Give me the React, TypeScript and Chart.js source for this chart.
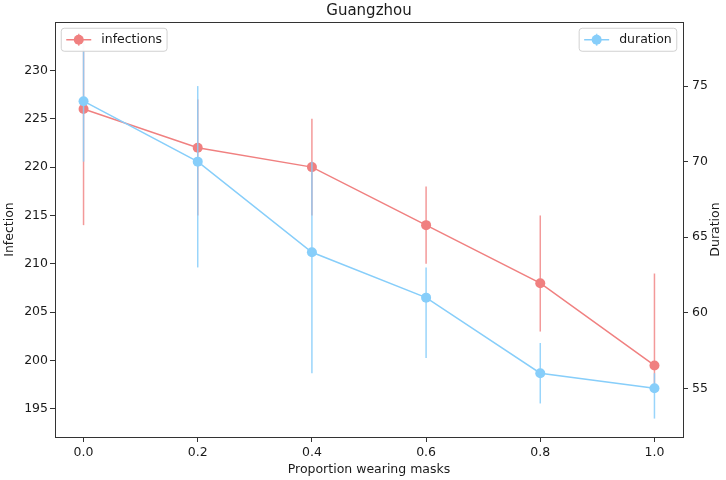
import React, { useEffect, useRef } from "react";
import { Chart, registerables } from "chart.js";
Chart.register(...registerables);

const chartTitle = "Guangzhou";
const xLabel = "Proportion wearing masks";
const leftLabel = "Infection";
const rightLabel = "Duration";

const maskProportion = [0, 0.2, 0.4, 0.6, 0.8, 1.0];
const infections = [226, 222, 220, 214, 208, 199.5];
const infectionsLow = [214, 215, 215, 210, 203, 197];
const infectionsHigh = [233, 227, 225, 218, 215, 209];
const duration = [74, 70, 64, 61, 56, 55];
const durationLow = [70, 63, 56, 57, 54, 53];
const durationHigh = [78, 75, 70, 63, 58, 56];

const xTicks = [0, 0.2, 0.4, 0.6, 0.8, 1.0];
const infectionTicks = [195, 200, 205, 210, 215, 220, 225, 230];
const durationTicks = [55, 60, 65, 70, 75];

const RED = "#F08080";
const BLUE = "#87CEFA";
const RED_ERR = "rgba(240,128,128,0.8)";
const BLUE_ERR = "rgba(135,206,250,0.85)";
const FONT = "DejaVu Sans";
const TEXT = "#1a1a1a";
const AXIS = "#333333";

const errorRanges = [
  { low: infectionsLow, high: infectionsHigh, color: RED_ERR },
  { low: durationLow, high: durationHigh, color: BLUE_ERR },
];

const errorBarPlugin = {
  id: "errorBars",
  beforeDatasetDraw(chart: any, args: any) {
    const ds = chart.data.datasets[args.index];
    const range = errorRanges[args.index];
    const yScale = chart.scales[ds.yAxisID];
    const { ctx, chartArea } = chart;
    ctx.save();
    ctx.beginPath();
    ctx.rect(chartArea.left, chartArea.top, chartArea.right - chartArea.left, chartArea.bottom - chartArea.top);
    ctx.clip();
    ctx.strokeStyle = range.color;
    ctx.lineWidth = 1.5;
    args.meta.data.forEach((pt: any, i: number) => {
      ctx.beginPath();
      ctx.moveTo(pt.x, yScale.getPixelForValue(range.low[i]));
      ctx.lineTo(pt.x, yScale.getPixelForValue(range.high[i]));
      ctx.stroke();
    });
    ctx.restore();
  },
};

function roundRect(ctx: CanvasRenderingContext2D, x: number, y: number, w: number, h: number, r: number) {
  ctx.beginPath();
  ctx.moveTo(x + r, y);
  ctx.lineTo(x + w - r, y);
  ctx.arcTo(x + w, y, x + w, y + r, r);
  ctx.lineTo(x + w, y + h - r);
  ctx.arcTo(x + w, y + h, x + w - r, y + h, r);
  ctx.lineTo(x + r, y + h);
  ctx.arcTo(x, y + h, x, y + h - r, r);
  ctx.lineTo(x, y + r);
  ctx.arcTo(x, y, x + r, y, r);
  ctx.closePath();
}

const decorPlugin = {
  id: "decor",
  afterDraw(chart: any) {
    const { ctx, chartArea } = chart;
    const { left, right, top, bottom } = chartArea;
    ctx.save();
    // frame
    ctx.strokeStyle = AXIS;
    ctx.lineWidth = 1;
    ctx.strokeRect(Math.round(left) + 0.5, Math.round(top) + 0.5, Math.round(right - left), Math.round(bottom - top));
    // title
    ctx.fillStyle = TEXT;
    ctx.font = `15px "${FONT}"`;
    ctx.textAlign = "center";
    ctx.textBaseline = "alphabetic";
    ctx.fillText(chartTitle, (left + right) / 2, 15);

    // right axis title (reads bottom-to-top)
    ctx.save();
    ctx.font = `12.5px "${FONT}"`;
    ctx.translate(716, (top + bottom) / 2);
    ctx.rotate(-Math.PI / 2);
    ctx.textAlign = "center";
    ctx.textBaseline = "middle";
    ctx.fillText(rightLabel, 0, 0);
    ctx.restore();

    // legends
    const fs = 12.5;
    ctx.font = `${fs}px "${FONT}"`;
    const pad = fs * 0.4;
    const handle = fs * 2;
    const gap = fs * 0.8;
    const axPad = fs * 0.5;
    const h = 23;
    const drawLegend = (label: string, color: string, errColor: string, anchor: "left" | "right") => {
      const tw = ctx.measureText(label).width;
      const w = pad + handle + gap + tw + pad;
      const x = anchor === "left" ? left + axPad : right - axPad - w;
      const y = top + axPad;
      roundRect(ctx, x, y, w, h, 3);
      ctx.fillStyle = "rgba(255,255,255,0.95)";
      ctx.fill();
      ctx.strokeStyle = "rgba(204,204,204,0.9)";
      ctx.lineWidth = 1;
      ctx.stroke();
      const cy = y + h / 2;
      const hx = x + pad;
      ctx.strokeStyle = color;
      ctx.lineWidth = 1.5;
      ctx.beginPath();
      ctx.moveTo(hx, cy);
      ctx.lineTo(hx + handle, cy);
      ctx.stroke();
      ctx.strokeStyle = errColor;
      ctx.beginPath();
      ctx.moveTo(hx + handle / 2, cy - 6);
      ctx.lineTo(hx + handle / 2, cy + 6);
      ctx.stroke();
      ctx.fillStyle = color;
      ctx.beginPath();
      ctx.arc(hx + handle / 2, cy, 5, 0, Math.PI * 2);
      ctx.fill();
      ctx.fillStyle = TEXT;
      ctx.textAlign = "left";
      ctx.textBaseline = "middle";
      ctx.fillText(label, hx + handle + gap, cy);
    };
    drawLegend("infections", RED, RED_ERR, "left");
    drawLegend("duration", BLUE, BLUE_ERR, "right");
    ctx.restore();
  },
};

export default function App() {
  const ref = useRef<HTMLCanvasElement>(null);
  useEffect(() => {
    document.body.style.margin = "0";
    const tickFont = { family: FONT, size: 12.5 };
    const chart = new Chart(ref.current as HTMLCanvasElement, {
      type: "line",
      data: {
        datasets: [
          {
            label: "infections",
            data: maskProportion.map((x, i) => ({ x, y: infections[i] })),
            borderColor: RED,
            backgroundColor: RED,
            pointBackgroundColor: RED,
            pointBorderWidth: 0,
            pointRadius: 5,
            borderWidth: 1.5,
            tension: 0,
            yAxisID: "yL",
            order: 1,
          },
          {
            label: "duration",
            data: maskProportion.map((x, i) => ({ x, y: duration[i] })),
            borderColor: BLUE,
            backgroundColor: BLUE,
            pointBackgroundColor: BLUE,
            pointBorderWidth: 0,
            pointRadius: 5,
            borderWidth: 1.5,
            tension: 0,
            yAxisID: "yR",
            order: 0,
          },
        ],
      },
      options: {
        animation: false,
        responsive: false,
        devicePixelRatio: 1,
        layout: { padding: { top: 22, left: 0, right: 0, bottom: 0 } },
        plugins: {
          legend: { display: false },
          title: { display: false },
          tooltip: { enabled: false },
        },
        scales: {
          x: {
            type: "linear",
            min: -0.05,
            max: 1.05,
            afterBuildTicks: (s: any) => {
              s.ticks = xTicks.map((v) => ({ value: v }));
            },
            afterFit: (s: any) => {
              s.height = 43;
            },
            ticks: {
              callback: (v: any) => Number(v).toFixed(1),
              font: tickFont,
              color: TEXT,
              padding: 3,
              maxRotation: 0,
              autoSkip: false,
            },
            grid: { display: true, drawOnChartArea: false, drawTicks: true, tickLength: 5, color: AXIS, tickColor: AXIS },
            border: { display: true, color: AXIS, width: 1 },
            title: { display: true, text: xLabel, font: tickFont, color: TEXT, padding: { top: 0, bottom: 3 } },
          },
          yL: {
            type: "linear",
            position: "left",
            min: 192.1,
            max: 235.0,
            afterBuildTicks: (s: any) => {
              s.ticks = infectionTicks.map((v) => ({ value: v }));
            },
            afterFit: (s: any) => {
              s.width = 55;
            },
            ticks: { font: tickFont, color: TEXT, padding: 2 },
            grid: { display: true, drawOnChartArea: false, drawTicks: true, tickLength: 5, color: AXIS, tickColor: AXIS },
            border: { display: true, color: AXIS, width: 1 },
            title: { display: true, text: leftLabel, font: tickFont, color: TEXT, padding: { top: 2, bottom: 0 } },
          },
          yR: {
            type: "linear",
            position: "right",
            min: 51.78,
            max: 79.24,
            afterBuildTicks: (s: any) => {
              s.ticks = durationTicks.map((v) => ({ value: v }));
            },
            afterFit: (s: any) => {
              s.width = 43;
            },
            ticks: { font: tickFont, color: TEXT, padding: 4 },
            grid: { display: true, drawOnChartArea: false, drawTicks: true, tickLength: 5, color: AXIS, tickColor: AXIS },
            border: { display: true, color: AXIS, width: 1 },
            title: { display: false },
          },
        },
      } as any,
      plugins: [errorBarPlugin, decorPlugin],
    });
    return () => chart.destroy();
  }, []);
  return (
    <div style={{ width: 726, height: 480 }}>
      <canvas ref={ref} width={726} height={480} style={{ display: "block" }} />
    </div>
  );
}
